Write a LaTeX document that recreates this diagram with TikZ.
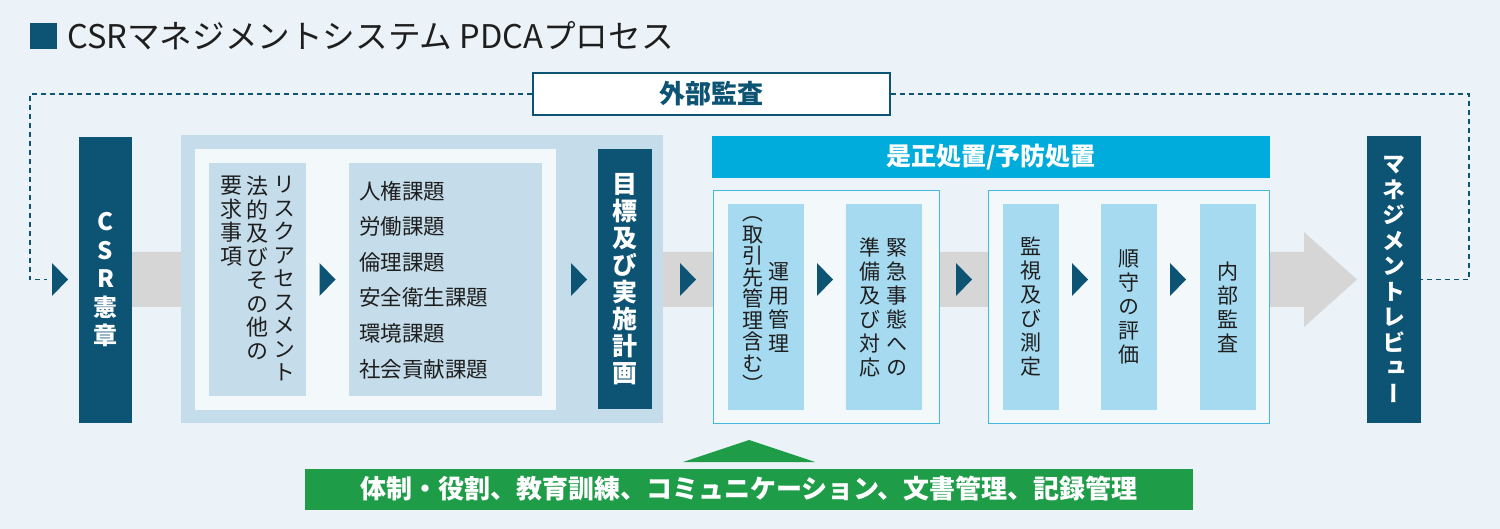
\documentclass[tikz,border=0pt]{standalone}
\usepackage{fontspec}
\newfontfamily\jp{Noto Sans CJK JP}
\newfontfamily\jpv[RawFeature=+vert]{Noto Sans CJK JP}
\usetikzlibrary{calc}

\definecolor{bgblue}{HTML}{EBF3F8}
\definecolor{darkteal}{HTML}{0C5374}
\definecolor{panelblue}{HTML}{C5DDEA}
\definecolor{innerwhite}{HTML}{F3F8FB}
\definecolor{cyanbar}{HTML}{00ACDC}
\definecolor{lightcyan}{HTML}{A6DAF0}
\definecolor{cyanline}{HTML}{45B8E2}
\definecolor{arrowgray}{HTML}{D6D6D6}
\definecolor{bargreen}{HTML}{1F9C48}
\definecolor{textgray}{HTML}{1E1E1E}

% small step marker on the flow
\newcommand{\Tri}[1]{\fill[darkteal] (#1,263) -- ++(16,16.5) -- ++(-16,16.5) -- cycle;}

\begin{document}
\begin{tikzpicture}[x=1pt,y=-1pt,
  darkbox/.style={fill=darkteal,text=white,inner sep=0pt,align=center},
  panel/.style={fill=panelblue,inner sep=0pt},
  group/.style={draw=cyanline,line width=1pt,fill=innerwhite,inner sep=0pt},
  stepbox/.style={fill=lightcyan,inner sep=0pt,align=center,text=textgray,
    font=\jpv\fontsize{21}{24}\selectfont},
  column/.style={inner sep=0pt,align=center,text=textgray,
    font=\jpv\fontsize{22}{23.5}\selectfont},
  dashline/.style={draw=darkteal,line width=1.2pt,dash pattern=on 5pt off 4pt}]

\useasboundingbox (0,0) rectangle (1500,529);
\fill[bgblue] (0,0) rectangle (1500,529);

% title
\node[fill=darkteal,minimum width=27,minimum height=26,inner sep=0pt] (mark) at (43.5,36) {};
\node[anchor=west,inner sep=0pt,text=textgray,font=\jp\fontsize{32.6}{38}\selectfont] (title) at (67,36)
  {CSRマネジメントシステム PDCAプロセス};

% main flow
\fill[arrowgray] (132,252) -- (1304,252) -- (1304,232) -- (1357,279.5)
  -- (1304,327) -- (1304,307) -- (132,307) -- cycle;

\node[darkbox,minimum width=53,minimum height=286,font=\jpv\bfseries\fontsize{24}{28.5}\selectfont] (csr) at (105.5,280)
  {C\\S\\R\\憲\\章};

% plan
\node[panel,minimum width=482,minimum height=288] (plan) at (422,279) {};
\node[fill=innerwhite,inner sep=0pt,minimum width=361,minimum height=261] (planin) at (375.5,279.5) {};
\node[panel,minimum width=97,minimum height=233] (risk) at (257.5,279.5) {};
\node[panel,minimum width=193,minimum height=233] (issue) at (445.5,279.5) {};
\node[column,anchor=north] (riskA) at (284,176) {リ\\ス\\ク\\ア\\セ\\ス\\メ\\ン\\ト};
\node[column,anchor=north] (riskB) at (257.5,176) {法\\的\\及\\び\\そ\\の\\他\\の};
\node[column,anchor=north] (riskC) at (231,176) {要\\求\\事\\項};
\node[anchor=west,inner sep=0pt,align=left,text=textgray,font=\jp\fontsize{21.5}{35.6}\selectfont] (issuelist) at (359,280)
  {人権課題\\労働課題\\倫理課題\\安全衛生課題\\環境課題\\社会貢献課題};
\node[darkbox,minimum width=54,minimum height=260,font=\jpv\bfseries\fontsize{25}{27}\selectfont] (goal) at (625,279)
  {目\\標\\及\\び\\実\\施\\計\\画};

% do / check
\node[fill=cyanbar,inner sep=0pt,minimum width=558,minimum height=42,text=white,
  font=\jp\bfseries\fontsize{25}{30}\selectfont] (fix) at (991,157) {是正処置/予防処置};
\node[group,minimum width=226,minimum height=232] (doA) at (826,307) {};
\node[group,minimum width=281,minimum height=232] (doB) at (1128.5,307) {};
\node[stepbox,minimum width=76,minimum height=206] (unyo) at (766,307) {};
\node[column,font=\jpv\fontsize{21}{24}\selectfont] (unyoA) at (779,307) {運\\用\\管\\理};
\node[column,font=\jpv\fontsize{21}{21.5}\selectfont] (unyoB) at (753,305) {（\\取\\引\\先\\管\\理\\含\\む\\）};
\node[stepbox,minimum width=76,minimum height=206] (kinkyu) at (884,307) {};
\node[column,font=\jpv\fontsize{21}{24}\selectfont] (kinkyuA) at (897,307.5) {緊\\急\\事\\態\\へ\\の};
\node[column,font=\jpv\fontsize{21}{24}\selectfont] (kinkyuB) at (870,307.5) {準\\備\\及\\び\\対\\応};
\node[stepbox,minimum width=56,minimum height=206] (kanshi) at (1031,307) {監\\視\\及\\び\\測\\定};
\node[stepbox,minimum width=56,minimum height=206] (junshu) at (1129,307) {順\\守\\の\\評\\価};
\node[stepbox,minimum width=56,minimum height=206] (naibu) at (1228,307) {内\\部\\監\\査};

% act
\node[darkbox,minimum width=54,minimum height=287,font=\jpv\bfseries\fontsize{23}{25.5}\selectfont] (review) at (1394,279.5)
  {マ\\ネ\\ジ\\メ\\ン\\ト\\レ\\ビ\\ュ\\ー};

% markers
\Tri{52}
\Tri{319.5}
\Tri{571}
\Tri{680}
\Tri{817}
\Tri{956}
\Tri{1072}
\Tri{1170}

% external audit loop
\node[fill=white,draw=darkteal,line width=1.2pt,inner sep=0pt,minimum width=357,minimum height=42,
  text=darkteal,font=\jp\bfseries\fontsize{26}{30}\selectfont] (audit) at (711.5,94) {外部監査};
\coordinate (turnL) at (30,279.5);
\coordinate (inL) at (47,279.5);
\coordinate (turnR) at (1469,279.5);
\draw[dashline] (audit.west) -| (turnL) -- (inL);
\draw[dashline] (audit.east) -| (turnR) -- (review.east);

% support
\node[fill=bargreen,inner sep=0pt,minimum width=888,minimum height=41,text=white,
  font=\jp\bfseries\fontsize{26}{30}\selectfont] (support) at (749,489)
  {体制・役割、教育訓練、コミュニケーション、文書管理、記録管理};
\fill[bargreen] (683,462) -- (749,440) -- (815,462) -- cycle;

\end{tikzpicture}
\end{document}
